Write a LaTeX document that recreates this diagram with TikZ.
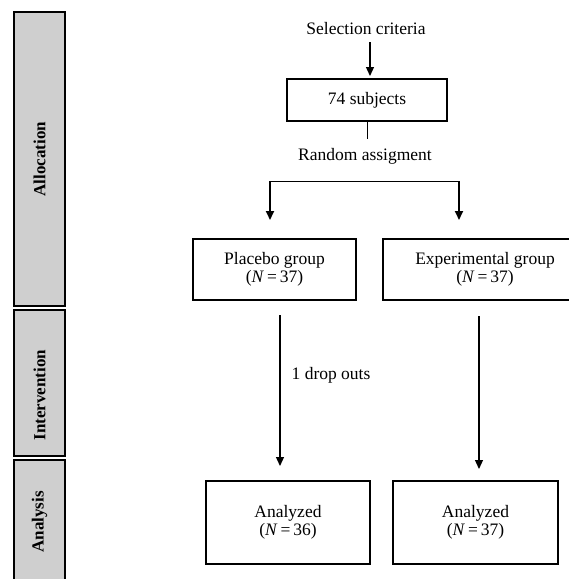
\documentclass[tikz,border=0pt]{standalone}
\usepackage{fontspec}
\setmainfont{Liberation Serif}
\usetikzlibrary{arrows.meta}
\tikzset{box/.style={draw,line width=1.3pt,align=center,font=\fontsize{17.5}{18.5}\selectfont}}
\tikzset{txt/.style={font=\fontsize{17.5}{18.5}\selectfont}}
\tikzset{side/.style={draw,line width=1.3pt,fill=black!19,rotate=90,minimum height=51pt,font=\bfseries\fontsize{17}{17}\selectfont}}
\tikzset{flow/.style={line width=1.2pt,-{Triangle[width=8pt,length=9pt]}}}
\newcommand{\grpn}[1]{(\textit{N}\,=\,#1)}

\begin{document}
\begin{tikzpicture}[x=1pt,y=-1pt]
            \clip (0,0) rectangle (569,579);
            \fill[white] (0,0) rectangle (569,579);
            % phase bars
            \node[side,minimum width=294pt] (alloc) at (39.5,159) {Allocation};
            \node[side,minimum width=146pt] (interv) at (39.5,383) {};
            \node[side,draw=none,fill=none] (intervlab) at (39.5,395) {Intervention};
            \node[side,minimum width=124pt] (anal) at (39.5,522) {Analysis};
            % allocation
            \node[txt] (sel) at (366,29) {Selection criteria};
            \node[box,minimum width=160pt,minimum height=42pt] (subj) at (367,100) {74 subjects};
            \node[txt] (rand) at (365,156) {Random assigment};
            \coordinate (s0) at (370,42);
            \coordinate (s1) at (370,76);
            \draw[flow] (s0) -- (s1);
            \draw[line width=1pt] (subj.south) -- ++(0,17);
            \coordinate (sl) at (270,181);
            \coordinate (sr) at (459,181);
            \draw[line width=1pt] (sl) -- (sr);
            \draw[flow,line width=2pt] (sl) -- ++(0,39);
            \draw[flow,line width=2pt] (sr) -- ++(0,39);
            \node[box,minimum width=163pt,minimum height=61pt] (plac) at (274.5,269.5) {Placebo group\\\grpn{37}};
            \node[box,minimum width=204pt,minimum height=61pt] (expe) at (485,269.5) {Experimental group\\\grpn{37}};
            % analysis
            \node[box,minimum width=164pt,minimum height=83pt] (ana1) at (288,522.5) {Analyzed\\\grpn{36}};
            \node[box,minimum width=165pt,minimum height=83pt] (ana2) at (475.5,522.5) {Analyzed\\\grpn{37}};
            \coordinate (p1) at (280,315);
            \coordinate (p2) at (280,466);
            \coordinate (e1) at (479,316);
            \coordinate (e2) at (479,469);
            \draw[flow] (p1) -- (p2);
            \draw[flow] (e1) -- (e2);
            \node[txt] (drop) at (331,375) {1 drop outs};
          \end{tikzpicture}
\end{document}
